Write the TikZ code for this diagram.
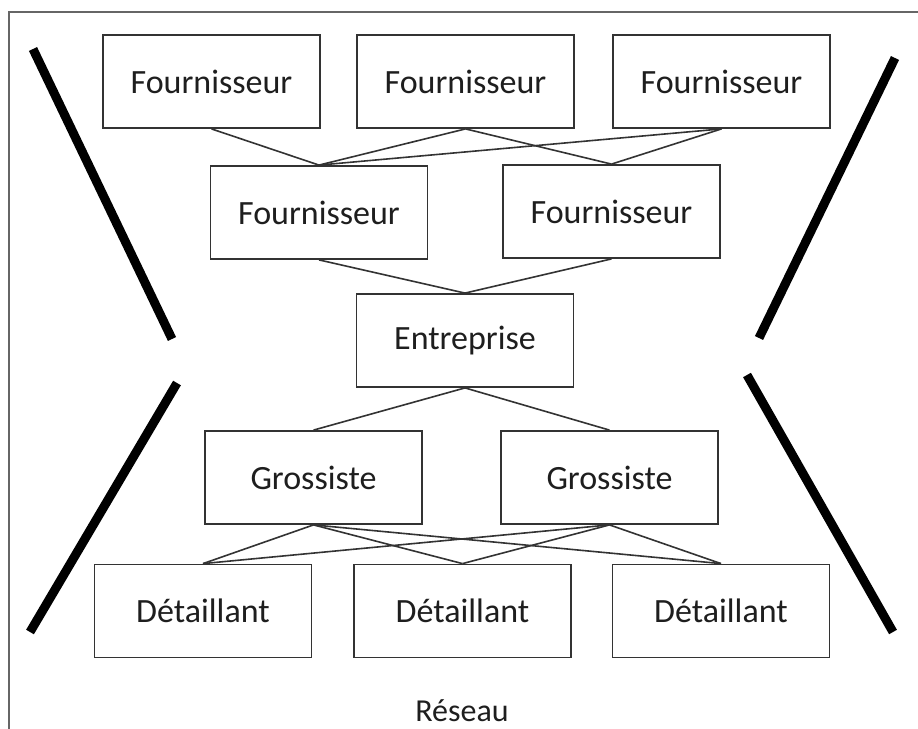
\documentclass[tikz,border=0pt]{standalone}
\usepackage{fontspec}
\setmainfont{Carlito}
\definecolor{edgegray}{HTML}{333333}
\definecolor{textgray}{HTML}{1E1E1E}
\begin{document}
\begin{tikzpicture}[x=1pt,y=-1pt,
  actor/.style={draw=edgegray, line width=1.8pt, fill=white, minimum width=217pt,
    minimum height=93pt, inner sep=0pt, text=textgray,
    font=\fontsize{34}{40}\selectfont},
  link/.style={draw=edgegray, line width=1.6pt},
  bar/.style={line width=9pt, black, line cap=butt},
  frame/.style={draw=gray!80!black, line width=1.6pt}]
\useasboundingbox (0,0) rectangle (918,728);
\fill[white] (0,0) rectangle (918,728);
% open frame: only left and top edges fall inside the page
\draw[frame] (9,730) -- (9,12) -- (920,12);

% nodes
\node[actor] (f1) at (211.5,81.5) {Fournisseur};
\node[actor] (f2) at (465.5,81.5) {Fournisseur};
\node[actor] (f3) at (721.5,81.5) {Fournisseur};
\node[actor] (f4) at (319,212.5) {Fournisseur};
\node[actor] (f5) at (611.5,211.5) {Fournisseur};
\node[actor] (ent) at (465,340.5) {Entreprise};
\node[actor] (g1) at (313.5,477.5) {Grossiste};
\node[actor] (g2) at (609.5,477.5) {Grossiste};
\node[actor] (d1) at (203,611) {Détaillant};
\node[actor] (d2) at (462.5,611) {Détaillant};
\node[actor] (d3) at (721,611) {Détaillant};

\node[text=textgray, font=\fontsize{32}{37}\selectfont] (net) at (462,711) {Réseau};

% supplier network
\draw[link] (f1.south) -- (f4.north);
\draw[link] (f2.south) -- (f4.north);
\draw[link] (f2.south) -- (f5.north);
\draw[link] (f3.south) -- (f4.north);
\draw[link] (f3.south) -- (f5.north);
\draw[link] (f4.south) -- (ent.north);
\draw[link] (f5.south) -- (ent.north);
% distribution network
\draw[link] (ent.south) -- (g1.north);
\draw[link] (ent.south) -- (g2.north);
\foreach \g in {g1,g2}
  \foreach \d in {d1,d2,d3}
    \draw[link] (\g.south) -- (\d.north);

% hourglass bars
\coordinate (lu1) at (33,49);  \coordinate (lu2) at (172,339);
\coordinate (ll1) at (177,383); \coordinate (ll2) at (30,632);
\coordinate (ru1) at (895,58); \coordinate (ru2) at (759,338);
\coordinate (rl1) at (747,375); \coordinate (rl2) at (893,632);
\draw[bar] (lu1) -- (lu2);
\draw[bar] (ll1) -- (ll2);
\draw[bar] (ru1) -- (ru2);
\draw[bar] (rl1) -- (rl2);
\end{tikzpicture}
\end{document}
